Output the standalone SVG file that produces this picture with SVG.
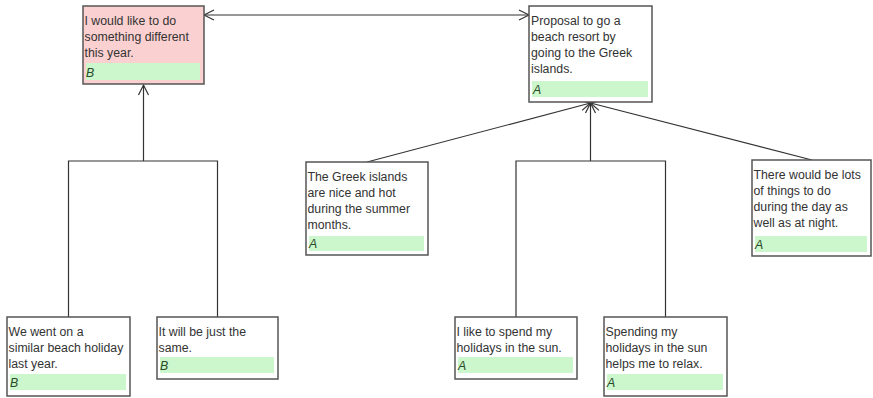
<svg xmlns="http://www.w3.org/2000/svg" width="873" height="398" viewBox="0 0 873 398">
<style>
.box{fill:#ffffff;stroke:#555555;stroke-width:1.5}
.pink{fill:#fbd0d0}
.bar{fill:#ccf7cc}
.t{font-family:"Liberation Sans",Arial,sans-serif;font-size:12.3px;fill:#333333}
.lab{font-family:"Liberation Sans",Arial,sans-serif;font-size:12.3px;font-style:italic;fill:#2a4a2a}
.c{fill:none;stroke:#333333;stroke-width:1.2}
</style>
<defs>
<marker id="ah" markerUnits="userSpaceOnUse" markerWidth="14" markerHeight="14" viewBox="-12 -7 14 14" refX="0" refY="0" orient="auto-start-reverse">
<path d="M-10,-5 L0,0 L-10,5" fill="none" stroke="#333333" stroke-width="1.2"/>
</marker>
</defs>
<rect width="873" height="398" fill="#ffffff"/>
<g id="connectors">
<line class="c" x1="204" y1="15" x2="529" y2="15" marker-start="url(#ah)" marker-end="url(#ah)"/>
<polyline class="c" points="68.5,318 68.5,161 217.5,161 217.5,318"/>
<line class="c" x1="143.5" y1="161" x2="143.5" y2="85" marker-end="url(#ah)"/>
<polyline class="c" points="516,318 516,161 665.5,161 665.5,318"/>
<line class="c" x1="590.5" y1="161" x2="590.5" y2="103" marker-end="url(#ah)"/>
<line class="c" x1="367" y1="162" x2="590.5" y2="103" marker-end="url(#ah)"/>
<line class="c" x1="812" y1="160" x2="590.5" y2="103" marker-end="url(#ah)"/>
</g>
<g id="n1">
<rect class="box pink" x="83" y="6" width="121" height="78"/>
<rect class="bar" x="86" y="63" width="114" height="17"/>
<text class="t" x="84.5" y="25">I would like to do</text>
<text class="t" x="84.5" y="41">something different</text>
<text class="t" x="84.5" y="57">this year.</text>
<text class="lab" x="86" y="77">B</text>
</g>
<g id="n2">
<rect class="box" x="529" y="6" width="123" height="96"/>
<rect class="bar" x="532" y="81" width="116" height="16"/>
<text class="t" x="531" y="25">Proposal to go a</text>
<text class="t" x="531" y="41">beach resort by</text>
<text class="t" x="531" y="57">going to the Greek</text>
<text class="t" x="531" y="73">islands.</text>
<text class="lab" x="533" y="94">A</text>
</g>
<g id="n3">
<rect class="box" x="7" y="317" width="123" height="79"/>
<rect class="bar" x="10" y="374" width="116" height="16"/>
<text class="t" x="8.5" y="336">We went on a</text>
<text class="t" x="8.5" y="352">similar beach holiday</text>
<text class="t" x="8.5" y="368">last year.</text>
<text class="lab" x="10" y="387">B</text>
</g>
<g id="n4">
<rect class="box" x="157" y="317" width="121" height="62"/>
<rect class="bar" x="160" y="357" width="114" height="16"/>
<text class="t" x="158.5" y="336">It will be just the</text>
<text class="t" x="158.5" y="352">same.</text>
<text class="lab" x="160" y="370">B</text>
</g>
<g id="n5">
<rect class="box" x="306" y="162" width="122" height="93"/>
<rect class="bar" x="309" y="236" width="115" height="15"/>
<text class="t" x="307.5" y="181">The Greek islands</text>
<text class="t" x="307.5" y="197">are nice and hot</text>
<text class="t" x="307.5" y="213">during the summer</text>
<text class="t" x="307.5" y="229">months.</text>
<text class="lab" x="309" y="248">A</text>
</g>
<g id="n6">
<rect class="box" x="455" y="317" width="122" height="62"/>
<rect class="bar" x="458" y="357" width="115" height="16"/>
<text class="t" x="456.5" y="336">I like to spend my</text>
<text class="t" x="456.5" y="352">holidays in the sun.</text>
<text class="lab" x="458" y="370">A</text>
</g>
<g id="n7">
<rect class="box" x="604" y="317" width="123" height="79"/>
<rect class="bar" x="607" y="374" width="116" height="16"/>
<text class="t" x="605.5" y="336">Spending my</text>
<text class="t" x="605.5" y="352">holidays in the sun</text>
<text class="t" x="605.5" y="368">helps me to relax.</text>
<text class="lab" x="607" y="387">A</text>
</g>
<g id="n8">
<rect class="box" x="752" y="160" width="119" height="96"/>
<rect class="bar" x="755" y="236" width="112" height="16"/>
<text class="t" x="753.5" y="179">There would be lots</text>
<text class="t" x="753.5" y="195">of things to do</text>
<text class="t" x="753.5" y="211">during the day as</text>
<text class="t" x="753.5" y="227">well as at night.</text>
<text class="lab" x="755" y="249">A</text>
</g>
</svg>
